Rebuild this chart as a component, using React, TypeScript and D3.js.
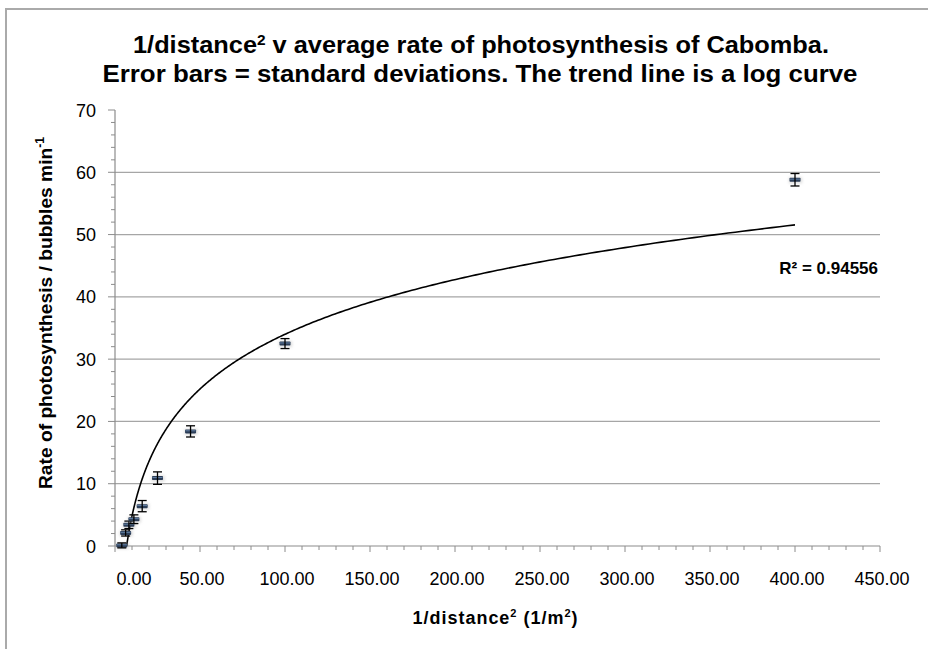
import React from "react";
import * as d3 from "d3";

const xValues = [4, 6.25, 8.16, 11.11, 16, 25, 44.44, 100, 400];
const yValues = [0.1, 2.1, 3.4, 4.3, 6.4, 10.9, 18.4, 32.5, 58.8];
const yErrors = [0.4, 0.5, 0.6, 0.7, 0.9, 1.0, 0.9, 0.8, 1.0];
const xTicks = [0, 50, 100, 150, 200, 250, 300, 350, 400, 450];
const yTicks = [0, 10, 20, 30, 40, 50, 60, 70];
const xMinor = d3.range(0, 451, 10);
const yMinor = d3.range(0, 71, 2);
const titleLine1 = ["1/distance", "2", " v average rate of photosynthesis of Cabomba."];
const titleLine2 = "Error bars = standard deviations. The trend line is a log curve";
const rSquaredLabel = "R² = 0.94556";

const FONT = "'Liberation Sans', Arial, Helvetica, sans-serif";

export default function App() {
  const width = 928;
  const height = 649;
  const x = d3.scaleLinear().domain([0, 450]).range([115, 880]);
  const y = d3.scaleLinear().domain([0, 70]).range([546, 110]);

  // logarithmic least-squares trend line y = a ln(x) + b
  const lx = xValues.map((v) => Math.log(v));
  const mx = d3.mean(lx)!;
  const my = d3.mean(yValues)!;
  const sxy = d3.sum(lx.map((l, i) => (l - mx) * (yValues[i] - my)));
  const sxx = d3.sum(lx.map((l) => (l - mx) * (l - mx)));
  const a = sxy / sxx;
  const b = my - a * mx;
  const xMin = d3.min(xValues)!;
  const xMax = d3.max(xValues)!;
  const curveXs = d3.range(0, 401).map((i) => xMin * Math.pow(xMax / xMin, i / 400));
  const line = d3
    .line<number>()
    .x((d) => x(d))
    .y((d) => y(a * Math.log(d) + b))
    .curve(d3.curveLinear);

  const [x0, x1] = x.range();
  const [yb, yt] = y.range();

  return (
    <svg
      width={width}
      height={height}
      style={{ position: "absolute", left: 0, top: 0, background: "#fff" }}
      fontFamily={FONT}
    >
      <defs>
        <clipPath id="plotClip">
          <rect x={x0} y={yt} width={x1 - x0} height={yb - yt} />
        </clipPath>
        <filter id="soft" x="-50%" y="-50%" width="200%" height="200%">
          <feGaussianBlur stdDeviation="1.5" />
        </filter>
      </defs>
      <rect x={0} y={0} width={width} height={height} fill="#fff" />
      <rect x={6} y={9} width={1200} height={1200} fill="none" stroke="#aaaaaa" strokeWidth={2} />

      {/* title */}
      <text x={481} y={53} textAnchor="middle" fontSize={23} fontWeight="bold" fill="#000"
        textLength={696} lengthAdjust="spacingAndGlyphs">
        {titleLine1[0]}
        <tspan fontSize={14} dy={-8}>{titleLine1[1]}</tspan>
        <tspan dy={8}>{titleLine1[2]}</tspan>
      </text>
      <text x={480} y={82} textAnchor="middle" fontSize={23} fontWeight="bold" fill="#000"
        textLength={755} lengthAdjust="spacingAndGlyphs">
        {titleLine2}
      </text>

      {/* gridlines */}
      {yTicks.filter((t) => t > 0 && t < 70).map((t) => (
        <line key={"g" + t} x1={x0} x2={x1} y1={y(t)} y2={y(t)} stroke="#a6a6a6" strokeWidth={1.2} />
      ))}

      {/* axes */}
      <line x1={x0} x2={x0} y1={yt} y2={yb} stroke="#8c8c8c" strokeWidth={1.2} />
      <line x1={x0} x2={x1} y1={yb} y2={yb} stroke="#8c8c8c" strokeWidth={1.2} />
      {yMinor.map((t) => (
        <line key={"ym" + t} x1={x0 - (t % 10 === 0 ? 7 : 4)} x2={x0} y1={y(t)} y2={y(t)} stroke="#8c8c8c" strokeWidth={1} />
      ))}
      {xMinor.map((t) => (
        <line key={"xm" + t} x1={x(t)} x2={x(t)} y1={yb} y2={yb + (t % 50 === 0 ? 6 : 4)} stroke="#8c8c8c" strokeWidth={1} />
      ))}

      {/* tick labels */}
      {yTicks.map((t) => (
        <text key={"yl" + t} x={96} y={y(t) + 6.5} textAnchor="end" fontSize={18} fill="#000">
          {t}
        </text>
      ))}
      {xTicks.map((t) => (
        <text key={"xl" + t} x={t === 0 ? x(t) + 19 : x(t) + 2} y={585} textAnchor="middle" fontSize={18} fill="#000">
          {d3.format(".2f")(t)}
        </text>
      ))}

      {/* axis titles */}
      <text
        transform={`translate(52,313) rotate(-90)`}
        textAnchor="middle"
        fontSize={19}
        fontWeight="bold"
        fill="#000"
        textLength={352}
        lengthAdjust="spacingAndGlyphs"
      >
        Rate of photosynthesis / bubbles min
        <tspan fontSize={12} dy={-8}>-1</tspan>
      </text>
      <text x={495} y={624} textAnchor="middle" fontSize={18} fontWeight="bold" fill="#000"
        textLength={165} lengthAdjust="spacing">
        1/distance
        <tspan fontSize={11} dy={-7}>2</tspan>
        <tspan dy={7}> (1/m</tspan>
        <tspan fontSize={11} dy={-7}>2</tspan>
        <tspan dy={7}>)</tspan>
      </text>

      {/* trend line */}
      <g clipPath="url(#plotClip)">
        <path d={line(curveXs) || ""} fill="none" stroke="#000" strokeWidth={1.6} />
      </g>

      {/* data points with error bars */}
      {xValues.map((xv, i) => {
        const cx = x(xv);
        const cy = y(yValues[i]);
        const top = y(yValues[i] + yErrors[i]);
        const bot = y(yValues[i] - yErrors[i]);
        return (
          <g key={"p" + i}>
            <rect x={cx - 6} y={cy - 2.5} width={13} height={6} fill="#999" opacity={0.35} filter="url(#soft)" />
            <rect x={cx - 5.5} y={cy - 2} width={11} height={4} fill="#2c3e58" rx={0.8} />
            <line x1={cx - 5} x2={cx + 5} y1={cy - 0.6} y2={cy - 0.6} stroke="#6f8fb5" strokeWidth={0.8} />
            <line x1={cx} x2={cx} y1={top} y2={bot} stroke="#000" strokeWidth={1.3} />
            <line x1={cx - 4.5} x2={cx + 4.5} y1={top} y2={top} stroke="#000" strokeWidth={1.3} />
            <line x1={cx - 4.5} x2={cx + 4.5} y1={bot} y2={bot} stroke="#000" strokeWidth={1.3} />
          </g>
        );
      })}

      {/* R squared */}
      <text x={878} y={274} textAnchor="end" fontSize={17} fontWeight="bold" fill="#000">
        {rSquaredLabel}
      </text>
    </svg>
  );
}
